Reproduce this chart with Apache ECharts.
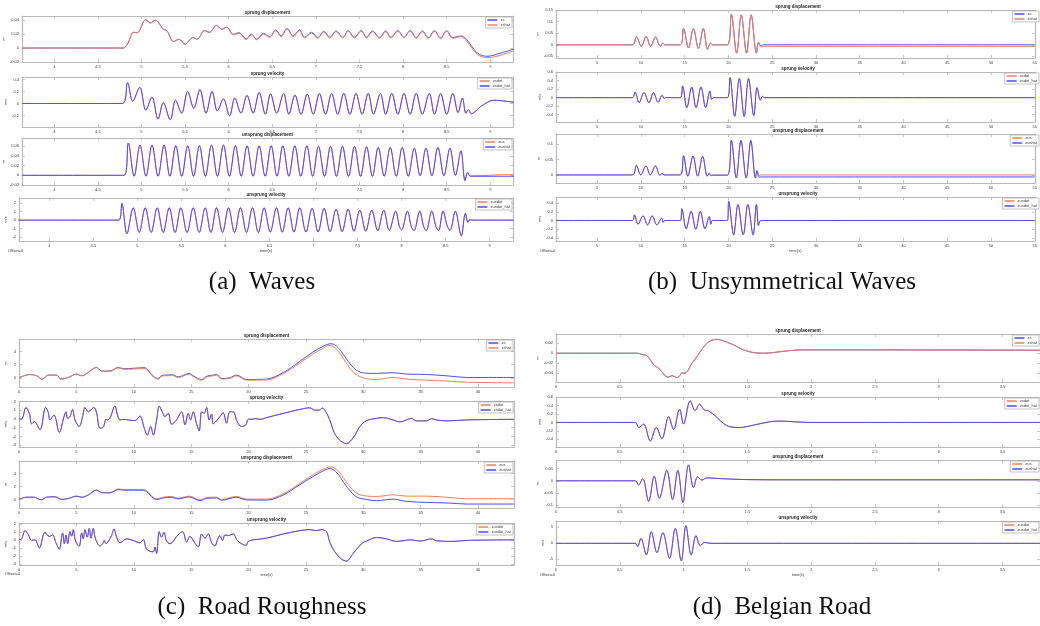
<!DOCTYPE html>
<html><head><meta charset="utf-8">
<script src="https://cdn.jsdelivr.net/npm/echarts@6/dist/echarts.min.js"></script>
<style>html,body{margin:0;padding:0;background:#fff}#c{width:1040px;height:626px}</style>
</head><body><div id="c"></div>
<script>
// ---------- tick labels ----------
const aXTicks=[4,4.5,5,5.5,6,6.5,7,7.5,8,8.5,9];
const bXTicks=[5,10,15,20,25,30,35,40,45,50,55];
const cXTicks=[0,5,10,15,20,25,30,35,40];
const dXTicks=[0,0.5,1,1.5,2,2.5,3,3.5];
const a1Y=[-0.02,0,0.02,0.04], a2Y=[-0.2,0,0.2,0.4], a3Y=[-0.02,0,0.02,0.04,0.06], a4Y=[-2,-1,0,1,2];
const b1Y=[-0.05,0,0.05,0.1,0.15], b2Y=[-0.4,-0.2,0,0.2,0.4,0.6], b3Y=[0,0.05,0.1], b4Y=[-0.4,-0.2,0,0.2,0.4];
const c1Y=[0,2,4], c2Y=[-3,-2,-1,0,1,2], c3Y=[0,2,4], c4Y=[-3,-2,-1,0,1,2];
const d1Y=[-0.04,-0.02,0,0.02], d2Y=[-0.4,-0.2,0,0.2,0.4,0.6], d3Y=[-0.1,-0.05,0,0.05], d4Y=[-5,0,5];

// ---------- (a) Waves ----------
const a_zsHead=[[3.63,0],[4.79,0],[4.84,0.006],[4.91,0.0226],[4.95,0.022],[5.05,0.041],[5.10,0.036],[5.16,0.040],[5.25,0.027],[5.29,0.025],[5.37,0.0094],[5.43,0.0127],[5.50,0.0056],[5.59,0.015],[5.64,0.0127],[5.72,0.025],[5.78,0.0226],[5.86,0.0325],[5.92,0.027],[5.98,0.030]];
const a_zsTail=[[6.05,0.0198],[6.12,0.022],[6.20,0.013],[6.26,0.0198],[6.32,0.0127],[6.40,0.021],[6.47,0.0165],[6.54,0.026],[6.60,0.0174],[6.67,0.028],[6.74,0.0174],[6.81,0.026],[6.87,0.0155],[6.95,0.0226],[7.02,0.015],[7.09,0.024],[7.16,0.0155],[7.23,0.0245],[7.31,0.0155],[7.37,0.025],[7.44,0.0155],[7.52,0.025],[7.58,0.0155],[7.65,0.0245],[7.73,0.015],[7.80,0.0245],[7.86,0.0155],[7.94,0.025],[8.01,0.0155],[8.08,0.025],[8.15,0.015],[8.22,0.0245],[8.29,0.015],[8.36,0.025],[8.43,0.0146],[8.50,0.025],[8.57,0.015],[8.66,0.0174],[8.73,0.0118],[8.85,-0.007],[8.96,-0.0118],[9.1,-0.008],[9.27,-0.0014]];
const a_zshatTail=[[6.05,0.019],[6.12,0.021],[6.20,0.012],[6.26,0.019],[6.32,0.0118],[6.40,0.020],[6.47,0.0155],[6.54,0.025],[6.60,0.0164],[6.67,0.027],[6.74,0.0164],[6.81,0.025],[6.87,0.0145],[6.95,0.0216],[7.02,0.014],[7.09,0.023],[7.16,0.0145],[7.23,0.0235],[7.31,0.0145],[7.37,0.024],[7.44,0.0145],[7.52,0.024],[7.58,0.0145],[7.65,0.0235],[7.73,0.014],[7.80,0.0235],[7.86,0.0145],[7.94,0.024],[8.01,0.0145],[8.08,0.024],[8.15,0.014],[8.22,0.0235],[8.29,0.014],[8.36,0.024],[8.43,0.0136],[8.50,0.024],[8.57,0.014],[8.66,0.0164],[8.73,0.0098],[8.85,-0.009],[8.96,-0.0138],[9.1,-0.011],[9.27,-0.0038]];
const a_zsdot=[[3.63,0],[4.78,0],[4.84,0.346],[4.90,0.038],[4.98,0.27],[5.05,-0.11],[5.12,0.108],[5.19,-0.26],[5.25,0.016],[5.33,-0.27],[5.39,0.054],[5.46,-0.16],[5.53,0.2],[5.60,-0.08],[5.67,0.232],[5.74,-0.16],[5.81,0.2],[5.87,-0.124],[5.94,0.076],[6.01,-0.205],[6.07,0.092],[6.14,-0.16],[6.21,0.135],[6.28,-0.16],[6.35,0.184],[6.42,-0.178],[6.48,0.162],[6.55,-0.16],[6.63,0.168],[6.69,-0.178],[6.76,0.14],[6.83,-0.178],[6.90,0.157],[6.97,-0.178],[7.04,0.168],[7.11,-0.178],[7.18,0.168],[7.25,-0.178],[7.32,0.168],[7.39,-0.178],[7.46,0.168],[7.53,-0.178],[7.60,0.168],[7.66,-0.178],[7.74,0.168],[7.80,-0.178],[7.87,0.168],[7.94,-0.178],[8.01,0.168],[8.08,-0.178],[8.15,0.168],[8.22,-0.178],[8.30,0.168],[8.36,-0.178],[8.43,0.168],[8.50,-0.178],[8.57,0.168],[8.63,-0.15],[8.68,0.092],[8.72,-0.162],[8.75,-0.1],[8.78,-0.168],[8.9,-0.04],[9.04,0.054],[9.27,0.02]];
const a_zusWave=[[3.63,0],[4.80,0],[4.849,0.0667],[4.916,-0.002],[4.983,0.0625],[5.052,-0.002],[5.121,0.0625],[5.19,-0.002],[5.259,0.0625],[5.326,-0.002],[5.393,0.061],[5.462,-0.002],[5.530,0.061],[5.597,-0.002],[5.664,0.061],[5.733,-0.002],[5.802,0.0625],[5.871,-0.002],[5.940,0.0625],[6.008,-0.002],[6.077,0.061],[6.144,-0.002],[6.211,0.061],[6.28,-0.002],[6.349,0.061],[6.418,-0.002],[6.487,0.061],[6.554,-0.002],[6.621,0.061],[6.69,-0.002],[6.758,0.061],[6.827,-0.002],[6.896,0.061],[6.963,-0.002],[7.030,0.0597],[7.099,-0.002],[7.168,0.0597],[7.236,-0.002],[7.305,0.0597],[7.374,-0.002],[7.443,0.0597],[7.512,-0.002],[7.581,0.059],[7.648,-0.002],[7.715,0.0575],[7.783,-0.002],[7.852,0.0575],[7.921,-0.002],[7.990,0.0575],[8.059,-0.002],[8.128,0.056],[8.195,-0.001],[8.262,0.056],[8.33,-0.001],[8.399,0.0575],[8.468,-0.001],[8.537,0.056],[8.60,0],[8.663,0.0505],[8.71,-0.011],[8.74,0.006]];
const a_zusTail=[[8.77,-0.001],[8.9,-0.0005],[9.1,0.001],[9.27,0.0014]];
const a_zushatTail=[[8.77,-0.002],[9.0,-0.002],[9.27,-0.002]];
const a_zusdot=[[3.65,0],[4.79,0],[4.824,1.96],[4.881,-1.6],[4.953,1.45],[5.021,-1.45],[5.089,1.45],[5.157,-1.45],[5.225,1.45],[5.293,-1.45],[5.362,1.45],[5.428,-1.45],[5.494,1.45],[5.564,-1.45],[5.634,1.45],[5.702,-1.45],[5.770,1.45],[5.835,-1.45],[5.899,1.45],[5.967,-1.45],[6.035,1.45],[6.103,-1.45],[6.171,1.45],[6.239,-1.45],[6.307,1.45],[6.373,-1.45],[6.439,1.45],[6.509,-1.4],[6.579,1.45],[6.645,-1.4],[6.712,1.45],[6.778,-1.4],[6.844,1.45],[6.914,-1.4],[6.984,1.4],[7.052,-1.4],[7.120,1.4],[7.188,-1.35],[7.256,1.29],[7.325,-1.35],[7.393,1.29],[7.459,-1.3],[7.525,1.18],[7.593,-1.3],[7.661,1.18],[7.729,-1.25],[7.797,1.18],[7.86,-1.2],[7.933,1.06],[7.975,-0.75],[8.0,-1.15],[8.066,1.06],[8.11,-0.75],[8.14,-1.25],[8.206,1.06],[8.25,-0.75],[8.28,-1.25],[8.342,1.06],[8.39,-0.75],[8.42,-1.25],[8.470,1.06],[8.52,-0.75],[8.55,-1.2],[8.610,1.06],[8.678,-1.84],[8.724,0.78],[8.754,-0.27],[8.773,0.05],[8.8,0],[9.27,0]];

// ---------- (b) Unsymmetrical Waves ----------
const b_zsWave=[[0.3,0],[9.03,0],[9.48,0.036],[10.05,-0.007],[10.61,0.036],[11.10,-0.007],[11.67,0.033],[12.23,-0.007],[12.50,0.007],[12.72,0],[14.50,0],[14.87,0.071],[15.44,-0.014],[16.00,0.071],[16.57,-0.017],[17.13,0.071],[17.62,-0.019],[17.96,0.007],[18.19,0],[19.88,0],[20.33,0.131],[20.94,-0.036],[21.47,0.129],[22.07,-0.036],[22.60,0.129],[23.20,-0.036],[23.43,0.011]];
const b_zsTail=[[23.73,-0.005],[24.0,0],[55,0]];
const b_zshatTail=[[23.73,-0.01],[24.0,-0.007],[55,-0.007]];
const b_zsdot=[[0.3,0],[9.03,0],[9.33,0.133],[9.79,-0.118],[10.35,0.118],[10.92,-0.118],[11.44,0.118],[11.97,-0.11],[12.42,0.055],[12.65,-0.02],[12.80,0],[14.50,0],[14.76,0.275],[15.25,-0.235],[15.81,0.25],[16.30,-0.235],[16.87,0.25],[17.40,-0.235],[17.89,0.157],[18.07,-0.04],[18.26,0],[19.88,0],[20.18,0.47],[20.71,-0.44],[21.24,0.447],[21.80,-0.44],[22.29,0.447],[22.90,-0.42],[23.27,0.235],[23.65,-0.06],[23.88,0.03],[24.10,0],[55,0]];
const b_zusWave=[[0.3,0],[9.03,0],[9.48,0.031],[9.97,0],[10.58,0.029],[11.07,0],[11.67,0.029],[12.16,-0.001],[12.42,0.004],[12.65,0],[14.50,0],[14.87,0.062],[15.36,-0.004],[15.96,0.061],[16.49,-0.004],[17.06,0.060],[17.58,-0.004],[17.81,0.006]];
const b_zusTail=[[18.0,-0.001],[18.2,0],[19.88,0],[20.33,0.112],[20.90,-0.01],[21.43,0.111],[22.03,-0.01],[22.56,0.111],[23.09,-0.01],[23.27,0.015],[23.50,-0.003],[23.7,0],[55,0]];
const b_zushatTail=[[18.0,-0.003],[18.2,-0.001],[19.88,-0.001],[20.33,0.112],[20.90,-0.01],[21.43,0.111],[22.03,-0.01],[22.56,0.111],[23.09,-0.01],[23.27,0.013],[23.50,-0.008],[23.7,-0.0065],[55,-0.0065]];
const b_zusdot=[[0.3,0],[9.03,0],[9.26,0.13],[9.67,-0.085],[10.24,0.108],[10.76,-0.1],[11.29,0.108],[11.82,-0.1],[12.39,0.054],[12.54,-0.04],[12.72,0],[14.50,0],[14.68,0.27],[15.17,-0.19],[15.74,0.21],[16.27,-0.2],[16.79,0.21],[17.32,-0.19],[17.81,0.09],[18.0,-0.085],[18.15,0],[19.88,0],[20.03,0.44],[20.60,-0.33],[21.09,0.37],[21.69,-0.33],[22.22,0.37],[22.82,-0.33],[23.20,0.37],[23.43,-0.115],[23.58,-0.02],[23.73,0],[55,0]];

// ---------- (c) Road Roughness ----------
const c_zs=[[0,0],[0.96,0.51],[1.54,0.31],[2.03,-0.2],[2.55,0.41],[3.28,0.41],[3.66,-0.2],[4.30,0.05],[5.02,0.56],[5.46,0.31],[6.04,0.82],[6.76,1.59],[7.20,1.03],[7.92,1.03],[8.65,1.59],[9.09,1.38],[9.96,1.44],[10.89,1.54],[11.70,0.26],[12.08,-0.1],[12.57,0.41],[13.0,0.41],[13.29,0.51],[13.88,0.15],[14.83,0.67],[15.18,0.31],[15.91,-0.26],[16.40,0.26],[16.92,0.41],[17.21,0.51],[17.65,-0.1],[18.37,0],[18.95,0.41],[19.83,-0.26],[21.57,-0.2],[23.02,0.8],[24.47,2.5],[25.6,3.9],[26.5,4.8],[27.2,5.18],[27.8,4.6],[28.4,3.2],[29.0,1.8],[29.6,0.95],[30.3,0.7],[31.15,0.67],[32.60,0.77],[33.76,0.56],[35.50,0.51],[37.53,0.26],[38.98,0.05],[43.13,0.05]];
const c_zshat=[[0,0],[0.96,0.5],[1.54,0.3],[2.03,-0.2],[2.55,0.4],[3.28,0.4],[3.66,-0.2],[4.30,0.05],[5.02,0.55],[5.46,0.3],[6.04,0.8],[6.76,1.55],[7.20,1.0],[7.92,0.98],[8.65,1.5],[9.09,1.3],[9.96,1.33],[10.89,1.4],[11.70,0.15],[12.08,-0.2],[12.57,0.3],[13.0,0.3],[13.29,0.4],[13.88,0.05],[14.83,0.55],[15.18,0.2],[15.91,-0.36],[16.40,0.15],[16.92,0.3],[17.21,0.4],[17.65,-0.2],[18.37,-0.1],[18.95,0.3],[19.83,-0.36],[21.57,-0.32],[23.02,0.62],[24.47,2.25],[25.6,3.6],[26.5,4.5],[27.1,4.92],[27.7,4.3],[28.3,2.8],[28.9,1.3],[29.5,0.35],[30.3,-0.15],[31.15,-0.26],[32.60,0.05],[33.76,-0.2],[35.50,-0.36],[37.53,-0.51],[38.98,-0.67],[43.13,-0.77]];
const c_zsdot=[[0,0],[0.23,0],[0.61,1.31],[0.90,0.64],[1.10,-0.56],[1.34,-0.3],[1.83,-1.24],[2.32,1.31],[2.55,0.75],[2.70,-0.11],[3.05,0.45],[3.51,-1.54],[3.92,0.26],[4.09,0.82],[4.24,0.07],[4.44,0.26],[4.67,1.09],[4.88,-0.11],[5.25,-0.86],[5.54,0.26],[5.75,1.31],[6.04,0.82],[6.24,1.01],[6.53,1.31],[6.76,0.71],[7.05,-1.05],[7.34,-0.94],[7.58,-0.04],[7.69,-0.11],[7.92,0.07],[8.36,1.46],[8.56,0.56],[8.80,-0.11],[9.14,-0.04],[9.52,-0.11],[10.10,-0.19],[10.54,0.34],[10.89,-0.94],[11.18,-1.84],[11.47,-0.86],[11.70,-1.84],[11.99,-0.11],[12.22,1.46],[12.48,0.82],[12.71,0.26],[13.00,0.64],[13.29,-0.6],[13.73,-0.11],[14.17,0.82],[14.46,-0.67],[14.75,0.64],[14.95,-0.11],[15.18,0.82],[15.47,-0.56],[15.70,-1.35],[15.91,0.82],[16.14,0.64],[16.34,1.31],[16.57,-0.11],[16.78,0.56],[16.92,-0.56],[17.27,-0.11],[17.50,0.26],[17.79,0.71],[18.08,-0.49],[18.37,0.82],[18.66,0.82],[19.01,-0.3],[19.39,-0.86],[19.77,-0.67],[19.97,-0.04],[20.26,-0.04],[20.55,0.04],[20.99,-0.04],[21.57,0.15],[23.02,0.64],[24.47,1.09],[25.34,1.27],[25.78,1.01],[26.15,1.01],[26.44,1.24],[26.73,0.82],[27.08,-0.11],[27.46,-1.54],[27.90,-2.36],[28.53,-2.81],[29.11,-2.17],[29.70,-0.86],[30.28,-0.19],[31.15,0.07],[31.73,0.15],[32.60,-0.11],[33.18,-0.34],[33.76,-0.11],[34.19,0.07],[34.63,-0.22],[35.50,-0.22],[35.94,0.04],[36.37,-0.11],[37.24,-0.22],[38.98,-0.11],[43.13,-0.04]];
const c_zus=[[0,0],[0.67,0.35],[1.25,0.35],[1.97,-0.05],[2.41,0.35],[3.13,0.41],[3.72,0],[4.30,0.15],[5.02,0.51],[5.46,0.35],[6.04,0.71],[6.76,1.47],[7.20,1.11],[7.92,1.06],[8.65,1.62],[9.09,1.52],[9.96,1.52],[10.83,1.52],[11.99,0.1],[12.57,0.35],[13.29,0.46],[13.88,0.2],[14.83,0.51],[15.76,-0.05],[16.40,0.3],[17.21,0.35],[17.65,0],[18.95,0.46],[19.83,0.05],[21.57,0.05],[23.02,0.86],[24.47,2.48],[25.6,3.75],[26.5,4.65],[27.2,5.01],[27.8,4.4],[28.4,3.0],[29.0,1.6],[29.6,0.8],[30.3,0.52],[31.15,0.46],[32.60,0.71],[33.76,0.51],[35.50,0.51],[37.53,0.3],[38.98,0.1],[43.13,0.1]];
const c_zushat=[[0,0],[0.67,0.35],[1.25,0.35],[1.97,-0.05],[2.41,0.35],[3.13,0.41],[3.72,0],[4.30,0.15],[5.02,0.5],[5.46,0.33],[6.04,0.68],[6.76,1.42],[7.20,1.05],[7.92,1.0],[8.65,1.52],[9.09,1.42],[9.96,1.42],[10.83,1.4],[11.99,-0.02],[12.57,0.22],[13.29,0.33],[13.88,0.08],[14.83,0.38],[15.76,-0.18],[16.40,0.17],[17.21,0.22],[17.65,-0.12],[18.95,0.33],[19.83,-0.08],[21.57,-0.1],[23.02,0.68],[24.47,2.28],[25.6,3.5],[26.5,4.4],[27.1,4.76],[27.7,4.1],[28.3,2.6],[28.9,1.2],[29.5,0.3],[30.3,0],[31.15,-0.2],[32.60,0.05],[33.76,-0.3],[35.50,-0.46],[37.53,-0.56],[38.98,-0.71],[43.13,-0.71]];
const c_zusdot=[[0,0],[0.23,0.12],[0.52,1.14],[0.81,0.65],[1.10,-0.08],[1.39,0],[1.77,-1.02],[2.26,0.94],[2.64,0.41],[2.93,0.61],[3.22,-0.37],[3.51,-1.18],[3.80,0.86],[3.95,-0.49],[4.09,0.61],[4.24,-0.49],[4.44,1.02],[4.59,0.45],[4.73,1.27],[4.88,0.12],[5.08,-0.61],[5.25,-0.78],[5.46,0.86],[5.60,0.12],[5.75,1.27],[5.95,0.33],[6.12,1.43],[6.27,0.2],[6.47,1.43],[6.62,0.33],[6.85,-0.49],[7.05,-0.78],[7.29,-0.49],[7.43,-0.08],[7.58,-0.49],[7.78,-0.2],[8.07,0.53],[8.27,1.35],[8.51,0.33],[8.80,-0.37],[9.38,0.12],[9.96,-0.08],[10.54,-0.37],[10.83,0.04],[11.12,-1.18],[11.70,-1.51],[11.84,-0.9],[11.99,-1.71],[12.22,1.02],[12.42,0.33],[12.63,0.94],[12.86,-0.16],[13.15,-0.49],[13.44,-0.2],[13.73,0.41],[14.25,1.02],[14.60,-0.29],[14.89,0.41],[15.33,-0.41],[15.62,-0.9],[15.91,0.73],[16.20,0.2],[16.49,0.73],[16.78,-0.37],[17.07,-0.78],[17.27,-0.08],[17.50,0.53],[17.74,-0.08],[17.94,0.61],[18.23,0.53],[18.66,0.73],[19.01,-0.08],[19.39,-0.49],[19.77,-0.69],[19.97,-0.2],[20.17,-0.08],[20.41,0],[21.57,0.2],[23.02,0.73],[24.47,1.14],[25.34,1.27],[25.92,1.14],[26.36,1.27],[26.79,1.02],[27.08,-0.29],[27.52,-1.51],[28.10,-2.41],[28.53,-2.65],[29.11,-1.71],[29.84,-0.49],[30.28,-0.16],[31.15,0.29],[32.02,0.12],[32.89,-0.2],[33.47,-0.12],[34.05,0],[34.98,-0.16],[35.94,0.12],[36.37,-0.12],[37.82,-0.2],[38.98,-0.08],[43.13,0]];

// ---------- (d) Belgian Road ----------
const d_zs=[[0,0],[0.634,0],[0.687,-0.0033],[0.713,-0.0047],[0.739,-0.0133],[0.765,-0.0233],[0.791,-0.028],[0.817,-0.0333],[0.856,-0.0453],[0.883,-0.048],[0.909,-0.0453],[0.927,-0.0467],[0.948,-0.0493],[0.969,-0.0453],[0.987,-0.04],[1.013,-0.04],[1.039,-0.033],[1.065,-0.02],[1.091,-0.012],[1.131,0.0033],[1.170,0.0167],[1.209,0.0247],[1.261,0.028],[1.313,0.0247],[1.392,0.0167],[1.470,0.0067],[1.548,0.0013],[1.627,0],[1.705,0.0013],[1.809,0.0047],[1.940,0.0067],[2.332,0.0067],[3.794,0.006]];
const d_zsdot=[[0,0],[0.621,0],[0.648,-0.12],[0.687,-0.04],[0.739,-0.44],[0.786,-0.12],[0.830,-0.384],[0.883,0.136],[0.922,-0.168],[0.969,0.312],[1.0,-0.04],[1.052,0.512],[1.091,0.28],[1.125,0.432],[1.162,0.296],[1.196,0.272],[1.261,0.12],[1.313,-0.024],[1.366,-0.104],[1.444,-0.12],[1.548,-0.064],[1.679,0.016],[1.757,0.032],[1.862,0.016],[1.992,0],[3.794,0]];
const d_zus=[[0,0],[0.621,0],[0.647,-0.017],[0.68,0.009],[0.726,-0.084],[0.77,0.019],[0.81,-0.071],[0.869,0.043],[0.914,-0.077],[0.955,0.043],[0.995,-0.088],[1.039,0.065],[1.078,-0.028],[1.110,0.016],[1.144,0.003],[1.182,0.012],[1.287,0.009],[1.496,0.005],[1.810,0.004],[3.794,0.004]];
const d_zusdot=[[0,0],[0.621,0],[0.640,-1.04],[0.666,1.56],[0.708,-3.65],[0.747,3.65],[0.791,-2.92],[0.838,3.33],[0.890,-4.69],[0.935,4.69],[0.982,-5.52],[1.018,5.52],[1.060,-3.65],[1.097,2.40],[1.131,-0.73],[1.165,0.31],[1.209,0],[3.794,0]];

// ---------- layout & drawing ----------
const BLUE='#4d4dff', ORANGE='#f08157', FRAME='#b9b9b9', TXT='#3a3a3a';
const FONT='Liberation Sans';
const SUB=[
 {L:22,R:513,T:16,B:62,x:[3.63,9.26],xt:aXTicks,y:[-0.02,0.046],yt:a1Y,yn:'m',tt:'sprung displacement',s:[['zs',a_zsHead.concat(a_zsTail),BLUE],['zshat',a_zsHead.concat(a_zshatTail),ORANGE]]},
 {L:22,R:513,T:77,B:127,x:[3.63,9.26],xt:aXTicks,y:[-0.39,0.44],yt:a2Y,yn:'m/s',tt:'sprung velocity',s:[['zsdot',a_zsdot,ORANGE],['zsdot_hat',a_zsdot,BLUE]]},
 {L:22,R:513,T:138,B:185,x:[3.63,9.26],xt:aXTicks,y:[-0.02,0.077],yt:a3Y,yn:'m',tt:'unsprung displacement',s:[['zus',a_zusWave.concat(a_zusTail),ORANGE],['zushat',a_zusWave.concat(a_zushatTail),BLUE]]},
 {L:19,R:513,T:198,B:241,x:[3.656,9.265],xt:aXTicks,y:[-2.45,2.6],yt:a4Y,yn:'m/s',tt:'unsprung velocity',s:[['zusdot',a_zusdot,ORANGE],['zusdot_hat',a_zusdot,BLUE]],last:true,off:[8,251]},

 {L:556,R:1040,T:10,B:58,x:[0.3,55],xt:bXTicks,y:[-0.057,0.15],yt:b1Y,yn:'m',tt:'sprung displacement',s:[['zs',b_zsWave.concat(b_zsTail),BLUE],['zshat',b_zsWave.concat(b_zshatTail),ORANGE]]},
 {L:556,R:1040,T:72,B:122,x:[0.3,55],xt:bXTicks,y:[-0.57,0.6],yt:b2Y,yn:'m/s',tt:'sprung velocity',s:[['zsdot',b_zsdot,ORANGE],['zsdot_hat',b_zsdot,BLUE]]},
 {L:556,R:1040,T:134,B:183,x:[0.3,55],xt:bXTicks,y:[-0.026,0.132],yt:b3Y,yn:'m',tt:'unsprung displacement',s:[['zus',b_zusWave.concat(b_zusTail),ORANGE],['zushat',b_zusWave.concat(b_zushatTail),BLUE]]},
 {L:556,R:1040,T:197,B:241,x:[0.3,55],xt:bXTicks,y:[-0.47,0.54],yt:b4Y,yn:'m/s',tt:'unsprung velocity',s:[['zusdot',b_zusdot,ORANGE],['zusdot_hat',b_zusdot,BLUE]],last:true,off:[540,251]},

 {L:19,R:514,T:339,B:387,x:[0,43.13],xt:cXTicks,y:[-1.4,5.9],yt:c1Y,yn:'m',tt:'sprung displacement',s:[['zs',c_zs,BLUE],['zshat',c_zshat,ORANGE]]},
 {L:19,R:514,T:401,B:447,x:[0,43.13],xt:cXTicks,y:[-3.2,2.05],yt:c2Y,yn:'m/s',tt:'sprung velocity',s:[['zsdot',c_zsdot,ORANGE],['zsdot_hat',c_zsdot,BLUE]]},
 {L:19,R:514,T:461,B:508,x:[0,43.13],xt:cXTicks,y:[-1.32,5.92],yt:c3Y,yn:'m',tt:'unsprung displacement',s:[['zus',c_zus,ORANGE],['zushat',c_zushat,BLUE]]},
 {L:19,R:514,T:523,B:565,x:[0,43.13],xt:cXTicks,y:[-3.15,2.1],yt:c4Y,yn:'m/s',tt:'unsprung velocity',s:[['zusdot',c_zusdot,ORANGE],['zusdot_hat',c_zusdot,BLUE]],last:true,off:[5,574]},

 {L:556,R:1040,T:334,B:382,x:[0,3.794],xt:dXTicks,y:[-0.058,0.0387],yt:d1Y,yn:'m',tt:'sprung displacement',s:[['zs',d_zs,BLUE],['zshat',d_zs,ORANGE]]},
 {L:556,R:1040,T:397,B:447,x:[0,3.794],xt:dXTicks,y:[-0.58,0.6],yt:d2Y,yn:'m/s',tt:'sprung velocity',s:[['zsdot',d_zsdot,ORANGE],['zsdot_hat',d_zsdot,BLUE]]},
 {L:556,R:1040,T:460,B:507,x:[0,3.794],xt:dXTicks,y:[-0.107,0.085],yt:d3Y,yn:'m',tt:'unsprung displacement',s:[['zus',d_zus,ORANGE],['zushat',d_zus,BLUE]]},
 {L:556,R:1040,T:521,B:565,x:[0,3.794],xt:dXTicks,y:[-6.8,7.0],yt:d4Y,yn:'m/s',tt:'unsprung velocity',s:[['zusdot',d_zusdot,ORANGE],['zusdot_hat',d_zusdot,BLUE]],last:true,off:[540,575]}
];
const CAPTIONS=[['(a)  Waves',262,282],['(b)  Unsymmetrical Waves',782,282],['(c)  Road Roughness',262,607],['(d)  Belgian Road',782,607]];

const grid=[],xAxis=[],yAxis=[],series=[],legend=[],graphic=[];
const line={show:true,onZero:false,lineStyle:{color:FRAME,width:1.2}};
SUB.forEach((p,i)=>{
  grid.push({left:p.L,top:p.T,width:p.R-p.L,height:p.B-p.T,containLabel:false});
  const tick={show:true,inside:true,length:3,lineStyle:{color:FRAME,width:0.8}};
  xAxis.push({type:'value',gridIndex:i,position:'bottom',min:p.x[0],max:p.x[1],axisLine:line,
    axisTick:Object.assign({customValues:p.xt},tick),splitLine:{show:false},
    axisLabel:{customValues:p.xt,fontSize:4,color:TXT,fontFamily:FONT,margin:3},
    name:p.last?'time(s)':'',nameLocation:'middle',nameGap:8,nameTextStyle:{fontSize:4,color:TXT,fontFamily:FONT}});
  xAxis.push({type:'value',gridIndex:i,position:'top',min:p.x[0],max:p.x[1],axisLine:line,
    axisTick:Object.assign({customValues:p.xt},tick),splitLine:{show:false},axisLabel:{show:false}});
  yAxis.push({type:'value',gridIndex:i,position:'left',min:p.y[0],max:p.y[1],axisLine:line,
    axisTick:Object.assign({customValues:p.yt},tick),splitLine:{show:false},
    axisLabel:{customValues:p.yt,fontSize:4,color:TXT,fontFamily:FONT,margin:3},
    name:p.yn,nameLocation:'middle',nameGap:11,nameRotate:90,nameTextStyle:{fontSize:4,color:TXT,fontFamily:FONT}});
  yAxis.push({type:'value',gridIndex:i,position:'right',min:p.y[0],max:p.y[1],axisLine:line,
    axisTick:Object.assign({customValues:p.yt},tick),splitLine:{show:false},axisLabel:{show:false}});
  p.s.forEach(s=>{
    series.push({type:'line',name:s[0],data:s[1],xAxisIndex:2*i,yAxisIndex:2*i,smooth:0.35,
      symbol:'none',showSymbol:false,lineStyle:{color:s[2],width:1},itemStyle:{color:s[2]},
      animation:false,silent:true,clip:true});
  });
  legend.push({data:p.s.map(s=>s[0]),orient:'vertical',right:1040-p.R+1,top:p.T+1,itemWidth:10,itemHeight:1.5,
    itemGap:1,icon:'rect',padding:[1,2,1,2],backgroundColor:'#fff',borderColor:'#9a9a9a',borderWidth:0.6,
    textStyle:{fontSize:4,color:TXT,fontFamily:FONT,padding:[0,0,0,-2]},selectedMode:false});
  graphic.push({type:'text',style:{text:p.tt,x:(p.L+p.R)/2,y:p.T-1,align:'center',verticalAlign:'bottom',
    fontSize:4.5,fontWeight:'bold',fontFamily:FONT,fill:'#222'}});
  if(p.off) graphic.push({type:'text',style:{text:'Offset=0',x:p.off[0],y:p.off[1],align:'left',verticalAlign:'middle',
    fontSize:4,fontFamily:FONT,fill:TXT}});
});
CAPTIONS.forEach(c=>graphic.push({type:'text',style:{text:c[0],x:c[1],y:c[2],align:'center',verticalAlign:'middle',
  fontSize:25,fontFamily:'Liberation Serif',fill:'#111'}}));

const chart=echarts.init(document.getElementById('c'),null,{renderer:'canvas'});
chart.setOption({animation:false,backgroundColor:'#fff',grid,xAxis,yAxis,series,legend,graphic});
</script></body></html>
